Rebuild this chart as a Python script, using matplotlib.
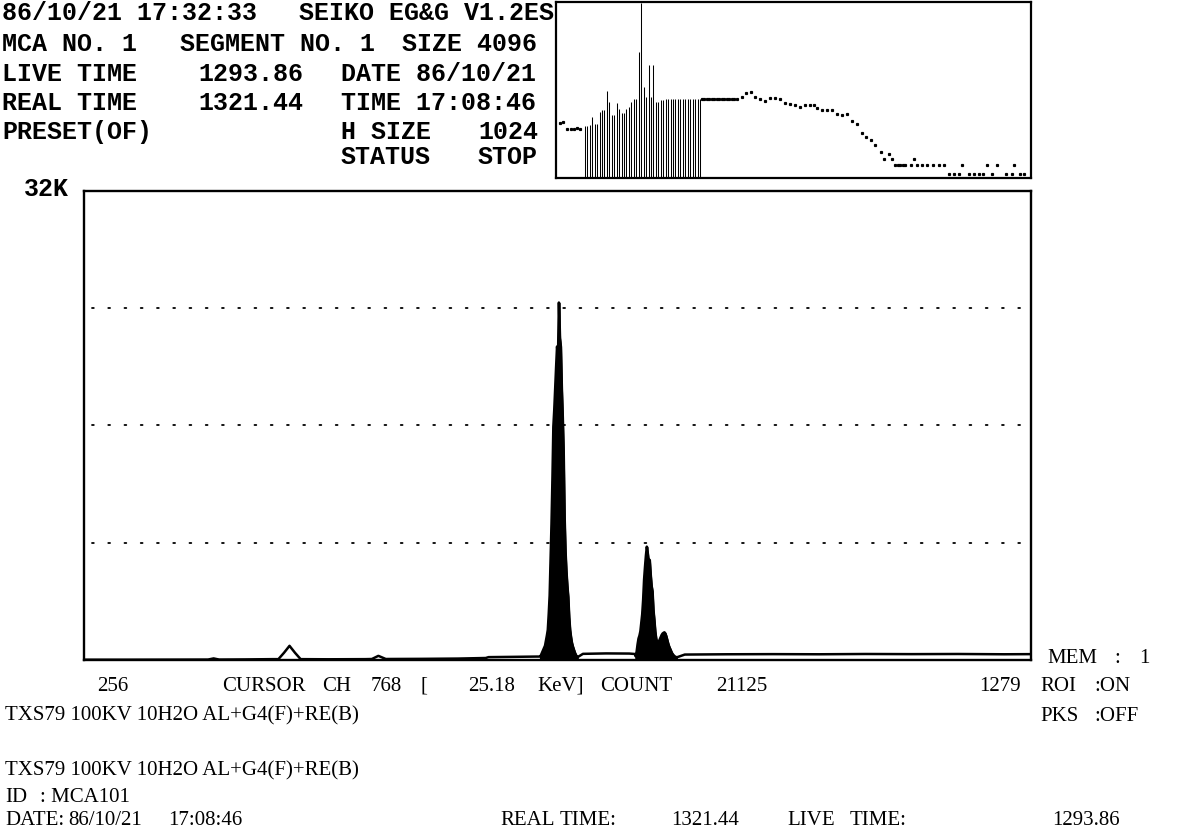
import numpy as np
import matplotlib.pyplot as plt

W, H = 1178, 830

# --- spectrum, channels 256..1279 (display window) ---
# background between the peaks: (channel, counts)
base_ch = [256, 300, 350, 390, 396, 402, 430, 460, 466, 472, 478, 484, 490,
           520, 560, 567, 574, 582, 620, 660, 690, 693, 720, 745, 748]
base_ct = [20, 20, 25, 30, 110, 30, 40, 60, 60, 500, 990, 500, 60,
           50, 60, 70, 290, 70, 80, 100, 140, 200, 220, 240, 240]

mid_ch = [790, 795, 820, 845, 851]
mid_ct = [230, 430, 460, 450, 420]

tail_ch = [897, 905, 950, 1000, 1050, 1100, 1150, 1200, 1250, 1279]
tail_ct = [200, 380, 400, 410, 400, 420, 410, 420, 400, 410]

# ROI 1, channels 749..789
roi1_ch = list(range(749, 790))
roi1_ct = [250, 400, 550, 700, 850, 1000, 1350, 1700, 2100, 3200,
           4500, 7000, 9500, 12600, 16300, 17500, 19000, 20500, 21900, 21125,
           24975, 22500, 21900, 19000, 17000, 14500, 10000, 7600, 6200, 5200,
           4400, 3000, 2100, 1600, 1200, 950, 750, 550, 400, 280, 220]

# ROI 2, channels 852..896
roi2_ch = list(range(852, 897))
roi2_ct = [250, 600, 1100, 1500, 1700, 2000, 2600, 3200, 4200, 5600,
           6500, 7300, 7920, 7400, 6800, 7000, 6000, 5200, 4800, 3500,
           2800, 2000, 1500, 1250, 1170, 1300, 1450, 1600, 1750, 1850,
           1900, 1935, 1850, 1650, 1400, 1150, 950, 800, 650, 500,
           400, 320, 260, 220, 200]

# --- overview of the full 4096 channels (log scale) ---
bar_counts = [21, 22, 23, 37, 24, 24, 50, 55, 55, 173, 87, 41, 41, 82, 58, 46,
              46, 58, 67, 91, 104, 104, 1660, 30000, 219, 122, 790, 122, 790, 91,
              91, 100, 100, 104, 104, 104, 104, 104, 104, 104, 104, 104, 104, 104,
              104, 104, 104, 104]
dot_ch = [36, 58, 100, 130, 160, 190, 214,
          1296, 1318, 1340, 1362, 1385, 1407, 1429, 1451, 1474, 1496, 1518, 1540,
          1563, 1585, 1607, 1652, 1690, 1735, 1771, 1809, 1860, 1904, 1948, 1993,
          2037, 2082, 2126, 2171, 2215, 2260, 2290, 2319, 2364, 2408, 2453, 2497,
          2541, 2586, 2630, 2675, 2719, 2758, 2800, 2838, 2883, 2912, 2957, 2987,
          3016, 3038, 3060, 3083, 3105, 3150, 3180, 3210, 3255, 3300, 3350, 3400,
          3446, 3609, 3831, 3920, 4069,
          3490, 3535, 3580, 3670, 3715, 3760, 3790, 3870, 4000, 4050, 4120, 4160]
dot_ct = [26, 28, 18, 18, 18, 19, 18,
          104, 104, 104, 104, 104, 104, 104, 104, 104, 104, 104, 104,
          104, 104, 104, 122, 148, 157, 122, 108, 94, 110, 114, 104,
          85, 79, 74, 67, 74, 74, 74, 61, 55, 55, 55, 43,
          41, 45, 29.5, 24, 14, 11.5, 9.4, 7, 4.7, 3, 4.1, 3,
          2.2, 2.2, 2.2, 2.2, 2.2, 2.2, 3, 2.2, 2.2, 2.2, 2.2, 2.2,
          2.2, 2.2, 2.2, 2.2, 2.2,
          1.3, 1.3, 1.3, 1.3, 1.3, 1.3, 1.3, 1.3, 1.3, 1.3, 1.3, 1.3]

grid_levels = [8192, 16384, 24576]

fig = plt.figure(figsize=(W / 100, H / 100), dpi=100)


def box(x0, y0, x1, y1):
    return [x0 / W, 1 - y1 / H, (x1 - x0) / W, (y1 - y0) / H]


# main spectrum
ax = fig.add_axes(box(84, 191, 1031, 660))
spec_ch = base_ch + roi1_ch + mid_ch + roi2_ch + tail_ch
spec_ct = base_ct + roi1_ct + mid_ct + roi2_ct + tail_ct
ax.plot(spec_ch, spec_ct, color='black', lw=1.8, solid_joinstyle='round')
ax.fill_between(roi1_ch, 0, roi1_ct, color='black', lw=1.4, edgecolor='black')
ax.fill_between(roi2_ch, 0, roi2_ct, color='black', lw=1.4, edgecolor='black')
for g in grid_levels:
    ax.axhline(g, xmin=0.008, xmax=0.995, color='black', lw=1.3,
               ls=(0, (1, 8)), dash_capstyle='round')
ax.set_xlim(256, 1279)
ax.set_ylim(0, 32768)
ax.set_xticks([])
ax.set_yticks([])
for s in ax.spines.values():
    s.set_linewidth(1.7)

# overview inset: display window as bars, the rest as dots
ins = fig.add_axes(box(556, 2, 1031, 178))
bar_ch = 256 + np.arange(len(bar_counts)) * (1023 / (len(bar_counts) - 1))
ins.vlines(bar_ch, 1, bar_counts, color='black', lw=0.75)
ins.plot(dot_ch, dot_ct, ls='none', marker='s', ms=1.3, color='black')
ins.set_yscale('log')
ins.set_xlim(0, 4220)
ins.set_ylim(1, 32768)
ins.set_xticks([])
ins.set_yticks([])
ins.minorticks_off()
for s in ins.spines.values():
    s.set_linewidth(1.6)

top_font = dict(family='Liberation Mono', weight='bold', size=18, va='center')
low_font = dict(family='Liberation Serif', size=15, va='center')


def put(x, y, s, **kw):
    fig.text(x / W, 1 - y / H, s, **kw)


# header block
put(2, 13, '86/10/21 17:32:33', **top_font)
put(299, 13, 'SEIKO EG&G V1.2ES', **top_font)
put(2, 44, 'MCA NO. 1', **top_font)
put(180, 44, 'SEGMENT NO. 1', **top_font)
put(402, 44, 'SIZE 4096', **top_font)
put(2, 74, 'LIVE TIME', **top_font)
put(198, 74, '1293.86', **top_font)
put(341, 74, 'DATE 86/10/21', **top_font)
put(2, 103, 'REAL TIME', **top_font)
put(198, 103, '1321.44', **top_font)
put(341, 103, 'TIME 17:08:46', **top_font)
put(2, 132, 'PRESET(OF)', **top_font)
put(341, 132, 'H SIZE', **top_font)
put(478, 132, '1024', **top_font)
put(341, 157, 'STATUS', **top_font)
put(478, 157, 'STOP', **top_font)
put(24, 189, '32K', **top_font)

# footer block
put(97, 686, '256', **low_font)
put(222, 686, 'CURSOR', **low_font)
put(322, 686, 'CH', **low_font)
put(371, 686, '768', **low_font)
put(420, 686, '[', **low_font)
put(468, 686, '25.18', **low_font)
put(537, 686, 'KeV]', **low_font)
put(600, 686, 'COUNT', **low_font)
put(716, 686, '21125', **low_font)
put(979, 686, '1279', **low_font)
put(1040, 686, 'ROI', **low_font)
put(1094, 686, ':ON', **low_font)
put(1047, 658, 'MEM', **low_font)
put(1114, 658, ':', **low_font)
put(1139, 658, '1', **low_font)
put(1040, 716, 'PKS', **low_font)
put(1094, 716, ':OFF', **low_font)
put(5, 716, 'TXS79 100KV 10H2O AL+G4(F)+RE(B)', **low_font)
put(5, 771, 'TXS79 100KV 10H2O AL+G4(F)+RE(B)', **low_font)
put(5, 797, 'ID', **low_font)
put(40, 797, ': MCA101', **low_font)
put(5, 820, 'DATE:', **low_font)
put(68, 820, '86/10/21', **low_font)
put(168, 820, '17:08:46', **low_font)
put(500, 820, 'REAL', **low_font)
put(560, 820, 'TIME:', **low_font)
put(671, 820, '1321.44', **low_font)
put(787, 820, 'LIVE', **low_font)
put(850, 820, 'TIME:', **low_font)
put(1052, 820, '1293.86', **low_font)

fig.savefig('out.png', dpi=100)
